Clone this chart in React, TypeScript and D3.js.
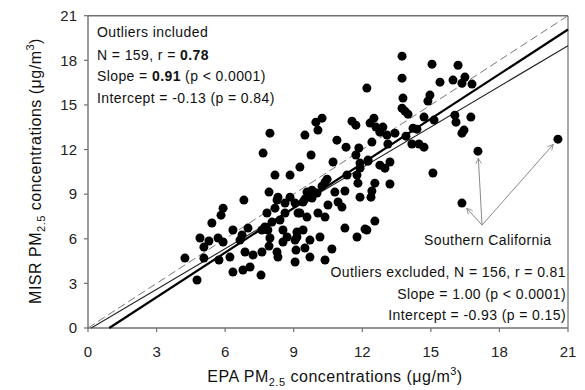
import React from "react";
import * as d3 from "d3";

const epaValues = [
  4.24, 4.77, 4.9, 5.07, 5.29, 5.07, 5.42, 5.73, 5.69, 5.91, 5.82, 5.91, 6.21, 6.34, 6.34, 6.65, 6.74, 6.82, 6.78, 7.0,
  6.87, 7.09, 7.22, 7.57, 7.61, 7.61, 7.87, 7.92, 7.83, 7.96, 7.92, 8.27, 8.31, 8.53, 8.53, 8.18, 8.27, 8.4, 8.62, 8.84,
  9.06, 9.06, 9.1, 9.14, 9.19, 7.96, 7.66, 8.18, 8.84, 8.31, 9.27, 7.74, 9.49, 9.97, 10.24, 10.06, 9.76, 10.72, 10.89, 11.29,
  11.85, 11.72, 11.55, 11.72, 11.9, 12.25, 11.9, 11.33, 11.77, 11.81, 10.37, 10.24, 9.8, 9.93, 11.24, 12.42, 9.49, 9.58, 10.02, 10.8,
  11.9, 8.62, 9.41, 9.8, 10.5, 10.94, 11.11, 9.27, 9.58, 10.06, 10.37, 8.05, 9.14, 9.41, 8.71, 11.24, 11.77, 12.12, 9.06, 9.49,
  10.67, 9.71, 10.37, 9.71, 10.15, 10.46, 12.2, 12.51, 12.34, 12.6, 12.9, 12.77, 13.08, 13.43, 13.91, 14.22, 14.39, 14.17, 14.48, 14.7,
  12.42, 13.12, 12.25, 12.77, 12.99, 13.21, 12.55, 13.21, 12.38, 15.09, 12.55, 12.2, 13.74, 13.74, 15.05, 16.19, 15.4, 15.97, 16.36, 16.49,
  16.8, 13.78, 14.96, 14.87, 13.74, 13.87, 14.0, 14.7, 15.14, 16.05, 16.1, 16.45, 16.36, 16.75, 17.06, 20.56, 16.36,
];

const misrValues = [
  4.7, 3.23, 6.05, 5.44, 5.85, 4.7, 7.06, 4.57, 6.05, 5.78, 7.59, 8.06, 4.77, 6.59, 3.76, 5.91, 6.25, 8.6, 3.9, 6.72,
  5.11, 4.1, 4.91, 3.56, 5.11, 6.59, 6.59, 9.14, 7.73, 6.05, 5.51, 5.11, 4.77, 6.59, 5.78, 8.06, 8.6, 7.26, 7.73, 8.8,
  8.4, 4.44, 5.24, 6.12, 7.73, 13.1, 11.76, 10.28, 10.28, 8.8, 10.82, 6.79, 12.97, 13.84, 14.11, 13.31, 11.63, 11.16, 12.63, 12.16,
  12.1, 11.63, 13.91, 13.64, 11.09, 11.22, 10.75, 10.28, 10.28, 9.74, 9.81, 9.54, 9.27, 9.07, 9.21, 9.21, 8.67, 9.14, 9.07, 9.14,
  8.8, 8.4, 8.47, 8.74, 8.27, 8.47, 8.13, 7.73, 7.46, 7.73, 7.46, 7.12, 6.45, 6.59, 6.12, 6.72, 6.12, 6.65, 5.91, 5.38,
  5.31, 4.77, 4.57, 5.91, 6.12, 10.01, 16.13, 14.11, 13.78, 13.51, 13.51, 13.17, 12.97, 13.1, 12.9, 13.44, 13.37, 12.37, 12.37, 12.16,
  12.5, 12.37, 11.29, 10.95, 10.75, 11.16, 9.74, 9.68, 8.8, 10.42, 7.19, 6.59, 18.28, 16.8, 17.74, 17.67, 16.53, 16.67, 16.46, 16.87,
  16.4, 15.46, 15.66, 15.26, 14.78, 14.58, 14.38, 14.18, 13.98, 14.31, 13.84, 13.31, 13.1, 14.18, 11.89, 12.7, 8.4,
];

const outlierEpa = [16.36, 17.06, 20.56];
const outlierMisr = [8.4, 11.89, 12.7];
const labelAnchor = [17.24, 6.92];

const axisTicks = [0, 3, 6, 9, 12, 15, 18, 21];

// fits: [slope, intercept]
const oneToOne = [1, 0];
const fitIncluded = [0.91, -0.13];
const fitExcluded = [1.0, -0.93];

const textIncluded = ["Outliers included", "N = 159, r = ", "0.78", "Slope = ", "0.91", " (p < 0.0001)", "Intercept = -0.13 (p = 0.84)"];
const textExcluded = ["Outliers excluded, N = 156, r = 0.81", "Slope = 1.00 (p < 0.0001)", "Intercept = -0.93 (p = 0.15)"];
const calloutLabel = "Southern California";

const W = 585;
const H = 390;
const x = d3.scaleLinear().domain([0, 21]).range([88, 568]);
const y = d3.scaleLinear().domain([0, 21]).range([328, 15.7]);

const FONT = "'Liberation Sans', Arial, sans-serif";
const AXIS = "#707070";

function fitLine(slope: number, intercept: number) {
  const x0 = Math.max(0, -intercept / slope);
  const x1 = 21;
  const gen = d3.line<[number, number]>().x((d) => x(d[0])).y((d) => y(d[1]));
  return gen([
    [x0, slope * x0 + intercept],
    [x1, slope * x1 + intercept],
  ]) as string;
}

export default function App() {
  const [ax, ay] = [x(labelAnchor[0]), y(labelAnchor[1])];
  const arrows = outlierEpa.map((e, i) => {
    const tx = x(e);
    const ty = y(outlierMisr[i]);
    const dx = tx - ax;
    const dy = ty - ay;
    const len = Math.sqrt(dx * dx + dy * dy);
    const k = (len - 7) / len;
    return { x2: ax + dx * k, y2: ay + dy * k };
  });
  const annStyle = { fontFamily: FONT, fontSize: 14, letterSpacing: 0.4, fill: "#111" } as const;
  return (
    <svg width={W} height={H} style={{ position: "absolute", left: 0, top: 0, background: "#fff" }}>
      <defs>
        <marker id="arr" viewBox="0 0 10 10" refX="9" refY="5" markerWidth="7" markerHeight="7" orient="auto">
          <path d="M1,1 L9,5 L1,9" fill="none" stroke="#888" strokeWidth="1.2" />
        </marker>
      </defs>
      {/* frame */}
      <line x1={x(0)} x2={x(21)} y1={y(21)} y2={y(21)} stroke={AXIS} strokeWidth={1.6} />
      <line x1={x(21)} x2={x(21)} y1={y(21)} y2={y(0)} stroke={AXIS} strokeWidth={1.2} />
      <line x1={x(0)} x2={x(0)} y1={y(21)} y2={y(0)} stroke={AXIS} strokeWidth={1.4} />
      <line x1={x(0)} x2={x(21)} y1={y(0)} y2={y(0)} stroke={AXIS} strokeWidth={1.4} />
      {axisTicks.map((t) => (
        <g key={"xt" + t}>
          <line x1={x(t)} x2={x(t)} y1={y(0)} y2={y(0) + 4} stroke={AXIS} strokeWidth={1.2} />
          <text x={x(t)} y={357} textAnchor="middle" style={{ fontFamily: FONT, fontSize: 15, fill: "#222" }}>
            {t}
          </text>
        </g>
      ))}
      {axisTicks.map((t) => (
        <g key={"yt" + t}>
          <line x1={x(0) - 4} x2={x(0)} y1={y(t)} y2={y(t)} stroke={AXIS} strokeWidth={1.2} />
          <text x={77} y={y(t) + 5.3} textAnchor="end" style={{ fontFamily: FONT, fontSize: 15, fill: "#222" }}>
            {t}
          </text>
        </g>
      ))}
      {/* fit lines */}
      <path d={fitLine(oneToOne[0], oneToOne[1])} stroke="#777" strokeWidth={1} strokeDasharray="8,4" fill="none" />
      <path d={fitLine(fitIncluded[0], fitIncluded[1])} stroke="#222" strokeWidth={1.1} fill="none" />
      <path d={fitLine(fitExcluded[0], fitExcluded[1])} stroke="#000" strokeWidth={2.2} fill="none" />
      {/* points */}
      {epaValues.map((e, i) => (
        <circle key={i} cx={x(e)} cy={y(misrValues[i])} r={4.5} fill="#000" />
      ))}
      {/* arrows */}
      {arrows.map((a, i) => (
        <line key={"a" + i} x1={ax} y1={ay} x2={a.x2} y2={a.y2} stroke="#888" strokeWidth={1} markerEnd="url(#arr)" />
      ))}
      <text x={424} y={245} style={annStyle}>
        {calloutLabel}
      </text>
      {/* upper-left annotation */}
      <text x={97} y={37} style={annStyle}>
        {textIncluded[0]}
      </text>
      <text x={97} y={59.5} style={annStyle}>
        {textIncluded[1]}
        <tspan fontWeight="bold">{textIncluded[2]}</tspan>
      </text>
      <text x={97} y={81} style={annStyle}>
        {textIncluded[3]}
        <tspan fontWeight="bold">{textIncluded[4]}</tspan>
        {textIncluded[5]}
      </text>
      <text x={97} y={103} style={annStyle}>
        {textIncluded[6]}
      </text>
      {/* lower-right annotation */}
      {textExcluded.map((t, i) => (
        <text key={"te" + i} x={566} y={277 + i * 21.5} textAnchor="end" style={annStyle}>
          {t}
        </text>
      ))}
      {/* axis titles */}
      <text x={335} y={382} textAnchor="middle" style={{ fontFamily: FONT, fontSize: 16, letterSpacing: 0.5, fill: "#111" }}>
        EPA PM
        <tspan fontSize={11} dy={4}>2.5</tspan>
        <tspan dy={-4}> concentrations (μg/m</tspan>
        <tspan fontSize={11} dy={-7}>3</tspan>
        <tspan dy={7}>)</tspan>
      </text>
      <text
        transform={`translate(41,171) rotate(-90)`}
        textAnchor="middle"
        style={{ fontFamily: FONT, fontSize: 16, letterSpacing: 0.5, fill: "#111" }}
      >
        MISR PM
        <tspan fontSize={11} dy={4}>2.5</tspan>
        <tspan dy={-4}> concentrations (μg/m</tspan>
        <tspan fontSize={11} dy={-7}>3</tspan>
        <tspan dy={7}>)</tspan>
      </text>
    </svg>
  );
}
